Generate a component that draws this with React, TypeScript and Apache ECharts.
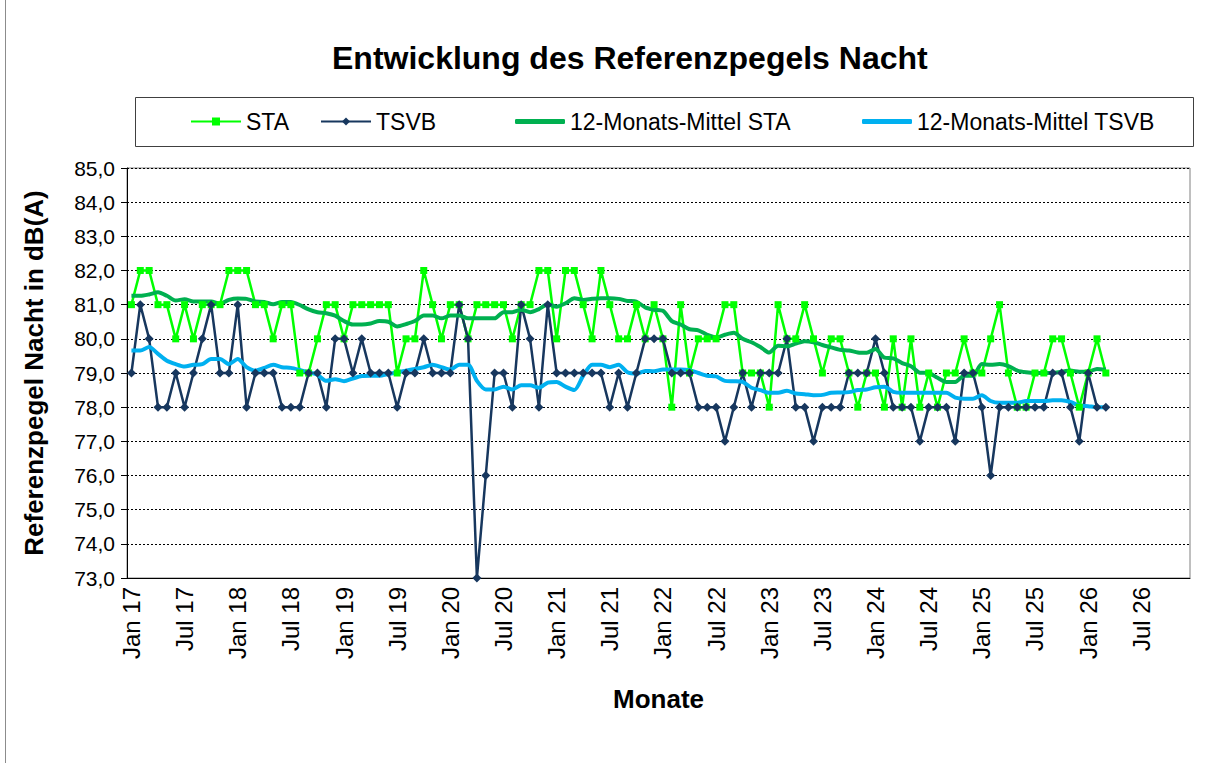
import React, { useEffect, useRef } from "react";
import * as echarts from "echarts";

const MONTHS = ["Jan", "Feb", "Mrz", "Apr", "Mai", "Jun", "Jul", "Aug", "Sep", "Okt", "Nov", "Dez"];
const YEARS = ["17", "18", "19", "20", "21", "22", "23", "24", "25", "26"];
const categories = YEARS.flatMap((y) => MONTHS.map((m) => `${m} ${y}`));

const STA = [
  81, 82, 82, 81, 81, 80, 81, 80, 81, 81,
  81, 82, 82, 82, 81, 81, 80, 81, 81, 79,
  79, 80, 81, 81, 80, 81, 81, 81, 81, 81,
  79, 80, 80, 82, 81, 80, 81, 81, 80, 81,
  81, 81, 81, 80, 81, 81, 82, 82, 80, 82,
  82, 81, 80, 82, 81, 80, 80, 81, 80, 81,
  80, 78, 81, 79, 80, 80, 80, 81, 81, 79,
  79, 79, 78, 81, 80, 80, 81, 80, 79, 80,
  80, 79, 78, 79, 79, 78, 80, 78, 80, 78,
  79, 78, 79, 79, 80, 79, 79, 80, 81, 79,
  78, 78, 79, 79, 80, 80, 79, 78, 79, 80,
  79,
];

const TSVB = [
  79, 81, 80, 78, 78, 79, 78, 79, 80, 81,
  79, 79, 81, 78, 79, 79, 79, 78, 78, 78,
  79, 79, 78, 80, 80, 79, 80, 79, 79, 79,
  78, 79, 79, 80, 79, 79, 79, 81, 80, 73,
  76, 79, 79, 78, 81, 80, 78, 81, 79, 79,
  79, 79, 79, 79, 78, 79, 78, 79, 80, 80,
  80, 79, 79, 79, 78, 78, 78, 77, 78, 79,
  78, 79, 79, 79, 80, 78, 78, 77, 78, 78,
  78, 79, 79, 79, 80, 79, 78, 78, 78, 77,
  78, 78, 78, 77, 79, 79, 78, 76, 78, 78,
  78, 78, 78, 78, 79, 79, 78, 77, 79, 78,
  78,
];

const MA_STA = [
  81.26, 81.26, 81.3, 81.36, 81.26, 81.12, 81.16, 81.09, 81.09, 81.09,
  81.03, 81.14, 81.18, 81.17, 81.09, 81.08, 81.01, 81.08, 81.08, 80.99,
  80.86, 80.78, 80.75, 80.68, 80.52, 80.42, 80.42, 80.45, 80.52, 80.5,
  80.36, 80.43, 80.52, 80.68, 80.68, 80.6, 80.68, 80.68, 80.6, 80.6,
  80.6, 80.6, 80.78, 80.78, 80.85, 80.78, 80.87, 81.01, 80.94, 81.04,
  81.19, 81.14, 81.17, 81.19, 81.19, 81.17, 81.11, 81.09, 80.92, 80.85,
  80.82, 80.52, 80.42, 80.28, 80.25, 80.12, 80.04, 80.12, 80.18, 80.0,
  79.9, 79.76, 79.6, 79.8, 79.78, 79.86, 79.93, 79.9, 79.82, 79.75,
  79.68, 79.66, 79.6, 79.59, 79.7, 79.45, 79.43, 79.29, 79.2, 79.01,
  79.0, 78.86, 78.74, 78.74, 78.92, 78.92, 79.26, 79.24, 79.26, 79.2,
  79.07, 79.02, 79.0, 79.0, 79.0, 79.04, 79.07, 79.04, 79.04, 79.12,
  79.1,
];

const MA_TSVB = [
  79.66, 79.66, 79.76, 79.56, 79.36, 79.26, 79.19, 79.24, 79.26, 79.41,
  79.41, 79.26, 79.41, 79.17, 79.07, 79.15, 79.24, 79.17, 79.15, 79.09,
  79.02, 78.95, 78.77, 78.82, 78.76, 78.84, 78.91, 78.92, 78.92, 78.97,
  79.02, 79.07, 79.12, 79.17, 79.24, 79.17, 79.1, 79.24, 79.24, 78.77,
  78.52, 78.52, 78.6, 78.52, 78.64, 78.64, 78.57, 78.72, 78.74, 78.6,
  78.5, 78.92, 79.24, 79.24, 79.17, 79.24, 79.02, 78.98, 79.06, 79.05,
  79.1, 79.1, 79.1, 79.08, 79.0, 78.92, 78.9, 78.77, 78.76, 78.74,
  78.57, 78.5, 78.42, 78.42, 78.48, 78.4, 78.38, 78.35, 78.36, 78.42,
  78.43, 78.44, 78.5, 78.52, 78.58, 78.6, 78.45, 78.42, 78.42, 78.42,
  78.42, 78.42, 78.42, 78.28, 78.25, 78.25, 78.35, 78.18, 78.13, 78.13,
  78.13, 78.18, 78.18, 78.18, 78.2, 78.2, 78.15, 78.05, 78.03, 78.0,
  78.0,
];

const FONT = "'Liberation Sans', Arial, sans-serif";

export default function App() {
  const ref = useRef<HTMLDivElement>(null);

  useEffect(() => {
    if (!ref.current) return;
    const chart = echarts.init(ref.current, undefined, { renderer: "svg" });
    const legendBase = {
      top: 110,
      padding: 0,
      itemWidth: 50,
      itemHeight: 10,
      textStyle: { fontFamily: FONT, fontSize: 23, color: "#000" },
    };
    chart.setOption({
      animation: false,
      backgroundColor: "#fff",
      title: {
        text: "Entwicklung des Referenzpegels Nacht",
        left: 327,
        top: 37,
        textStyle: { fontFamily: FONT, fontSize: 32, fontWeight: "bold", color: "#000" },
      },
      graphic: [
        {
          type: "rect",
          shape: { x: 135.5, y: 97.5, width: 1058, height: 49 },
          style: { fill: "none", stroke: "#404040", lineWidth: 1 },
          silent: true,
        },
        {
          type: "line",
          shape: { x1: 5.5, y1: 0, x2: 5.5, y2: 763 },
          style: { stroke: "#8c8c8c", lineWidth: 1 },
          silent: true,
        },
      ],
      legend: [
        { ...legendBase, left: 190, data: ["STA"] },
        { ...legendBase, left: 320, data: ["TSVB"] },
        {
          ...legendBase,
          left: 515,
          itemHeight: 5,
          data: [{ name: "12-Monats-Mittel STA", icon: "roundRect" }],
        },
        {
          ...legendBase,
          left: 862,
          itemHeight: 5,
          data: [{ name: "12-Monats-Mittel TSVB", icon: "roundRect" }],
        },
      ],
      grid: {
        left: 127,
        top: 168,
        right: 21,
        bottom: 185,
        show: true,
        borderColor: "#808080",
        borderWidth: 1,
      },
      xAxis: {
        type: "category",
        data: categories,
        boundaryGap: true,
        name: "Monate",
        nameLocation: "middle",
        nameGap: 108,
        nameTextStyle: { fontFamily: FONT, fontSize: 26, fontWeight: "bold", color: "#000" },
        axisLine: { lineStyle: { color: "#000", width: 1 } },
        axisTick: { interval: 5, length: 6, lineStyle: { color: "#000" } },
        axisLabel: {
          interval: 5,
          rotate: 90,
          margin: 9,
          fontFamily: FONT,
          fontSize: 24,
          color: "#000",
        },
        splitLine: { show: false },
      },
      yAxis: {
        type: "value",
        min: 73,
        max: 85,
        interval: 1,
        name: "Referenzpegel Nacht in dB(A)",
        nameLocation: "middle",
        nameGap: 80,
        nameTextStyle: { fontFamily: FONT, fontSize: 26, fontWeight: "bold", color: "#000" },
        axisLine: { show: true, lineStyle: { color: "#000", width: 1 } },
        axisTick: { show: true, length: 6, lineStyle: { color: "#000" } },
        axisLabel: {
          fontFamily: FONT,
          fontSize: 21,
          color: "#000",
          margin: 12,
          formatter: (v: number) => v.toFixed(1).replace(".", ","),
        },
        splitLine: { show: true, lineStyle: { color: "#000", width: 1, type: [2, 2] } },
      },
      series: [
        {
          name: "STA",
          type: "line",
          data: STA,
          symbol: "rect",
          symbolSize: 7,
          showAllSymbol: true,
          lineStyle: { color: "#00FF00", width: 2.5 },
          itemStyle: { color: "#00FF00" },
        },
        {
          name: "TSVB",
          type: "line",
          data: TSVB,
          symbol: "diamond",
          symbolSize: 9,
          showAllSymbol: true,
          lineStyle: { color: "#17375E", width: 2.5 },
          itemStyle: { color: "#17375E" },
        },
        {
          name: "12-Monats-Mittel STA",
          type: "line",
          data: MA_STA,
          symbol: "none",
          smooth: 0.25,
          lineStyle: { color: "#00B050", width: 4 },
          itemStyle: { color: "#00B050" },
        },
        {
          name: "12-Monats-Mittel TSVB",
          type: "line",
          data: MA_TSVB,
          symbol: "none",
          smooth: 0.25,
          lineStyle: { color: "#00B0F0", width: 4 },
          itemStyle: { color: "#00B0F0" },
        },
      ],
    });
    return () => chart.dispose();
  }, []);

  return (
    <div
      ref={ref}
      style={{ position: "fixed", left: 0, top: 0, width: 1211, height: 763, background: "#fff" }}
    />
  );
}
